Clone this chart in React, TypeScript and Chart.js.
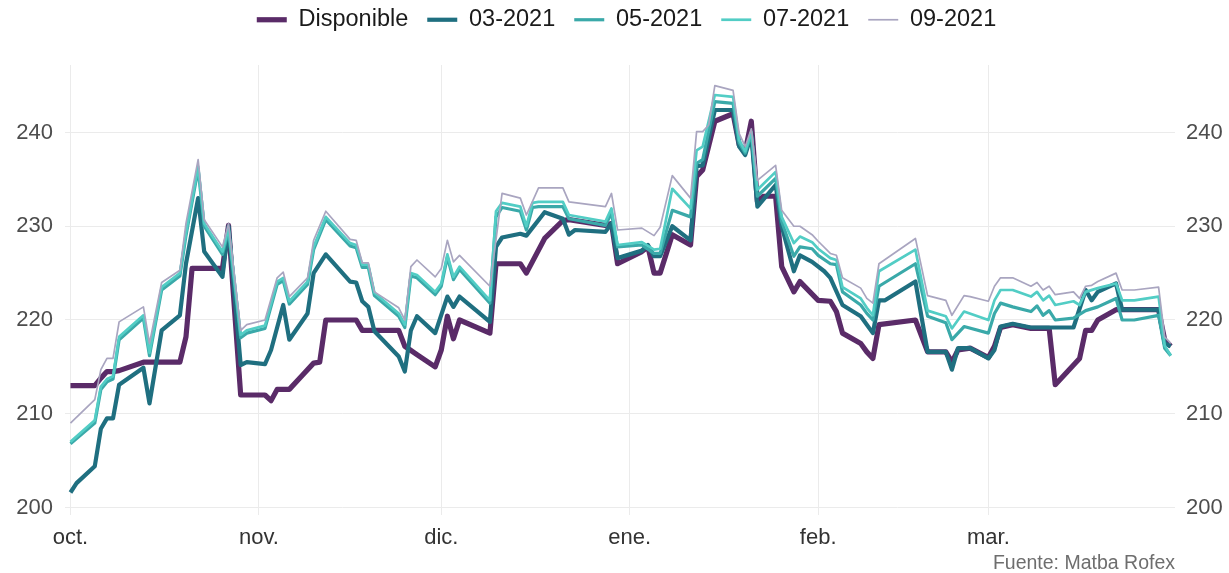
import React, { useEffect, useRef } from "react";
import { Chart, registerables } from "chart.js";

Chart.register(...registerables);

// Day index counted from 1 Oct 2020
const days = [
  0, 1, 4, 5, 6, 7, 8, 12, 13, 15,
  18, 19, 20, 21, 22, 25, 26, 27, 28, 29,
  32, 33, 34, 35, 36, 38, 39, 40, 41, 42,
  46, 47, 48, 49, 50, 54, 55, 56, 57, 60,
  61, 62, 63, 64, 69, 70, 71, 74, 75, 76,
  77, 78, 81, 82, 83, 88, 89, 90, 94, 95,
  96, 97, 99, 102, 103, 104, 105, 106, 109, 110,
  111, 112, 113, 114, 116, 117, 119, 120, 122, 123,
  124, 125, 126, 127, 130, 131, 132, 133, 134, 139,
  141, 144, 145, 146, 147, 148, 151, 152, 153, 155,
  158, 159, 160, 161, 162, 165, 166, 167, 168, 169,
  172, 173, 175, 179, 180, 181,
];

const disponible = [
  213.0, 213.0, 213.0, 213.8, 214.5, 214.5, 214.6, 215.5, 215.5, 215.5,
  215.5, 218.2, 225.5, 225.5, 225.5, 225.5, 230.1, 221.0, 212.0, 212.0,
  212.0, 211.4, 212.6, 212.6, 212.6, 214.0, null, 215.4, 215.5, 220.0,
  null, 220.0, 218.9, null, null, 218.9, 217.2, null, 216.3, 215.0,
  216.8, 220.4, 218.0, 220.0, 218.6, 226.0, null, 226.0, 225.0, null,
  null, 228.7, 230.6, 230.7, null, 230.1, 230.3, 226.0, 227.3, 227.8,
  225.0, 225.0, 229.1, 228.0, 235.3, 236.0, null, 241.2, 242.0, 238.7,
  238.0, 241.2, 232.6, 233.2, 233.2, 225.7, 223.0, 224.1, null, 222.1,
  null, 222.0, 220.9, 218.6, 217.5, 216.6, 215.9, 219.5, null, 220.0,
  216.6, 216.6, 215.5, 216.8, null, 217.0, 216.0, 217.2, 219.2, 219.5,
  219.1, null, null, 219.1, 213.1, null, 215.9, 218.9, 218.9, 220.0,
  221.1, null, null, 221.1, 217.9, 217.2,
];

const mar2021 = [
  201.6, 202.6, 204.4, 208.4, 209.5, 209.5, 213.1, 214.9, 211.1, 218.9,
  220.5, 226.0, null, 233.0, 227.3, 224.6, 230.0, null, 215.2, 215.5,
  215.3, 216.8, null, 221.6, 217.9, null, 220.7, 225.0, null, 227.0,
  224.1, 224.0, 222.0, 221.4, 218.8, 216.1, 214.5, 218.9, 220.4, 218.6,
  null, 222.5, 221.4, 222.5, 219.8, 227.8, 228.8, 229.2, 229.0, null,
  null, 231.5, 230.8, 229.1, 229.6, 229.4, 230.3, 226.6, 227.4, 228.0,
  226.8, 226.8, 230.0, 228.5, 236.4, 236.5, null, 242.4, 242.4, 238.5,
  237.6, 239.7, 232.1, null, 234.4, 230.0, 225.2, 226.9, 226.2, null,
  225.2, 224.5, null, 221.6, 220.4, null, 218.6, 222.1, 222.1, 224.1,
  216.6, 216.6, 214.7, 217.0, null, 217.0, 215.9, 216.8, 219.3, 219.6,
  219.2, null, null, null, null, 219.2, null, 223.2, 222.1, 223.0,
  223.9, 221.1, null, 221.1, 217.5, 217.2,
];

const may2021 = [
  206.8, null, 209.0, 212.6, 213.4, 213.7, 217.9, 220.2, 216.2, 223.2,
  224.7, 229.0, null, 236.1, 230.0, 227.0, 229.5, null, 218.1, 218.6,
  219.1, null, 223.8, 224.2, 221.7, null, 223.8, 227.5, null, 230.7,
  227.9, 227.7, 225.6, 225.6, 222.6, 220.4, 219.2, 224.7, 224.5, 222.7,
  223.6, 226.7, 224.3, 225.4, 221.8, 231.0, 232.0, 231.6, 229.6, 232.0,
  232.1, null, 232.1, 230.8, null, 230.1, 231.4, 227.8, 228.0, null,
  227.1, 227.1, 231.7, 231.0, 236.7, 237.1, null, 243.3, 243.1, 238.9,
  237.8, 239.9, 233.2, null, 235.1, 230.5, 226.8, 227.8, 227.6, 226.9,
  null, 226.0, 225.9, 223.0, 221.6, 220.7, 220.0, 223.6, null, 226.0,
  220.4, 219.7, 217.9, null, 219.3, null, 218.6, 220.7, 221.8, 221.4,
  220.9, 221.5, 220.5, 221.0, 220.0, 220.2, 220.6, 221.0, null, 221.4,
  222.3, 220.0, 220.0, 220.5, 217.0, 216.2,
];

const jul2021 = [
  207.0, null, 209.3, 212.9, 213.7, 214.0, 218.2, 220.5, 216.5, 223.5,
  225.0, 229.3, null, 236.4, 230.3, 227.3, 229.8, null, 218.4, 218.9,
  219.4, null, 224.1, 224.5, 222.0, null, 224.1, 227.8, null, 231.0,
  228.2, 228.0, 225.9, 225.9, 222.9, 220.7, 219.5, 225.0, 224.8, 223.0,
  223.9, 227.0, 224.6, 225.7, 222.1, 231.6, 232.5, 232.1, 230.0, 232.5,
  232.6, null, 232.6, 231.2, null, 230.5, 231.9, 228.0, 228.3, null,
  227.5, 227.6, 234.0, 231.9, 238.1, 238.5, null, 244.0, 243.8, 239.2,
  238.0, 240.1, 233.9, null, 235.8, 231.0, 228.2, 228.9, 228.3, 227.6,
  null, 226.6, 226.4, 223.5, 222.3, 221.3, 220.5, 225.2, null, 227.5,
  221.0, 220.4, 219.1, null, 220.9, null, 220.0, 222.1, 223.2, 223.2,
  222.5, 223.0, 222.1, 222.6, 221.6, 222.0, 221.6, 223.0, null, 223.4,
  223.9, 222.1, 222.1, 222.5, 217.3, 216.2,
];

const sep2021 = [
  209.0, null, 211.5, 214.7, 215.9, 215.9, 219.8, 221.4, 217.5, 224.0,
  225.3, 230.3, null, 237.1, 230.7, 227.8, 230.3, null, 218.9, 219.5,
  220.0, null, 224.5, 225.1, 222.5, null, 224.5, 228.5, null, 231.6,
  228.6, 228.5, 226.1, 226.1, 223.0, 221.3, 220.0, 225.7, 226.4, 224.6,
  225.5, 228.5, 226.2, 226.9, 223.6, null, 233.5, 233.0, 231.2, null,
  234.1, null, 234.1, 232.6, null, 232.1, 233.5, 229.6, 229.8, null,
  229.0, 229.9, 235.4, 233.0, 240.1, 240.1, 240.8, 245.0, 244.5, 239.9,
  238.5, 240.4, 234.9, null, 236.5, 231.7, 230.0, 230.0, 229.1, 228.4,
  null, 227.1, 226.9, 224.5, 223.4, 222.3, 221.8, 226.0, null, 228.7,
  222.6, 222.1, 220.5, null, 222.6, 222.5, 222.0, 223.6, 224.5, 224.5,
  223.6, 224.0, 223.2, 223.6, 222.7, 223.0, 222.3, 223.6, 223.7, 224.1,
  225.0, 223.2, 223.2, 223.5, 218.2, 217.5,
];

const seriesNames = ["Disponible", "03-2021", "05-2021", "07-2021", "09-2021"];
const monthTicks = [0, 31, 61, 92, 123, 151];
const monthLabels = ["oct.", "nov.", "dic.", "ene.", "feb.", "mar."];
const yTicks = [200, 210, 220, 230, 240];
const captionText = "Fuente: Matba Rofex";

const FONT = "'Liberation Sans', Arial, Helvetica, sans-serif";

const legendSpacing = {
  id: "legendSpacing",
  beforeInit(chart: any) {
    const lg = chart.legend;
    if (!lg) return;
    const fit = lg.fit;
    lg.fit = function () {
      fit.call(this);
      this.height = 65;
    };
  },
  afterLayout(chart: any) {
    const lg = chart.legend;
    if (!lg) return;
    lg.top -= 11;
    lg.bottom -= 11;
    lg.left += 12;
    lg.right += 12;
  },
};

const caption = {
  id: "caption",
  afterDraw(chart: any) {
    const c = chart.ctx;
    c.save();
    c.font = `19.5px ${FONT}`;
    c.fillStyle = "#6e6e6e";
    c.textAlign = "right";
    c.textBaseline = "middle";
    c.fillText(captionText, chart.chartArea.right, 564);
    c.restore();
  },
};

export default function App() {
  const ref = useRef<HTMLCanvasElement>(null);

  useEffect(() => {
    if (!ref.current) return;
    const series = [
      { label: seriesNames[4], data: sep2021, color: "#a9a5c0", width: 1.7 },
      { label: seriesNames[3], data: jul2021, color: "#52cdc5", width: 2.7 },
      { label: seriesNames[2], data: may2021, color: "#3aa9a9", width: 3.2 },
      { label: seriesNames[1], data: mar2021, color: "#1f6f80", width: 4.2 },
      { label: seriesNames[0], data: disponible, color: "#5a2b68", width: 5.2 },
    ];
    const yAxisBase = {
      type: "linear",
      min: 199.2,
      max: 247.2,
      afterBuildTicks: (s: any) => {
        s.ticks = yTicks.map((v) => ({ value: v }));
      },
      border: { display: false },
    };
    const chart = new Chart(ref.current, {
      type: "line",
      data: {
        labels: days,
        datasets: series.map((s) => ({
          label: s.label,
          data: s.data,
          borderColor: s.color,
          backgroundColor: s.color,
          borderWidth: s.width,
          pointRadius: 0,
          pointHoverRadius: 0,
          tension: 0,
          spanGaps: true,
          fill: false,
          borderJoinStyle: "round",
          borderCapStyle: "butt",
        })),
      },
      options: {
        responsive: false,
        animation: false,
        devicePixelRatio: 1,
        events: [],
        layout: { padding: 0 },
        plugins: {
          legend: {
            display: true,
            position: "top",
            reverse: true,
            labels: {
              usePointStyle: true,
              pointStyle: "line",
              pointStyleWidth: 30,
              padding: 19,
              color: "#1a1a1a",
              font: { family: FONT, size: 23.5 },
            },
          },
          tooltip: { enabled: false },
        },
        scales: {
          x: {
            type: "linear",
            min: -0.9,
            max: 181.7,
            afterBuildTicks: (s: any) => {
              s.ticks = monthTicks.map((v) => ({ value: v }));
            },
            ticks: {
              autoSkip: false,
              maxRotation: 0,
              minRotation: 0,
              padding: 10,
              color: "#333333",
              font: { family: FONT, size: 22 },
              callback: (_v: any, i: number) => monthLabels[i],
            },
            grid: { color: "#ebebeb", lineWidth: 1, drawTicks: false },
            border: { display: false },
            afterFit: (s: any) => {
              s.height = 58;
            },
          },
          y: {
            ...yAxisBase,
            position: "left",
            ticks: {
              padding: 12,
              color: "#4d4d4d",
              font: { family: FONT, size: 22 },
            },
            grid: { color: "#ebebeb", lineWidth: 1, drawTicks: false },
            afterFit: (s: any) => {
              s.width = 65;
            },
          },
          y2: {
            ...yAxisBase,
            position: "right",
            ticks: {
              padding: 11,
              color: "#4d4d4d",
              font: { family: FONT, size: 22 },
            },
            grid: { display: false, drawTicks: false },
            afterFit: (s: any) => {
              s.width = 54;
            },
          },
        },
      } as any,
      plugins: [legendSpacing, caption],
    } as any);
    return () => chart.destroy();
  }, []);

  return (
    <div
      style={{
        position: "absolute",
        left: 0,
        top: 0,
        width: 1229,
        height: 573,
        background: "#ffffff",
      }}
    >
      <canvas ref={ref} width={1229} height={573} style={{ display: "block" }} />
    </div>
  );
}
